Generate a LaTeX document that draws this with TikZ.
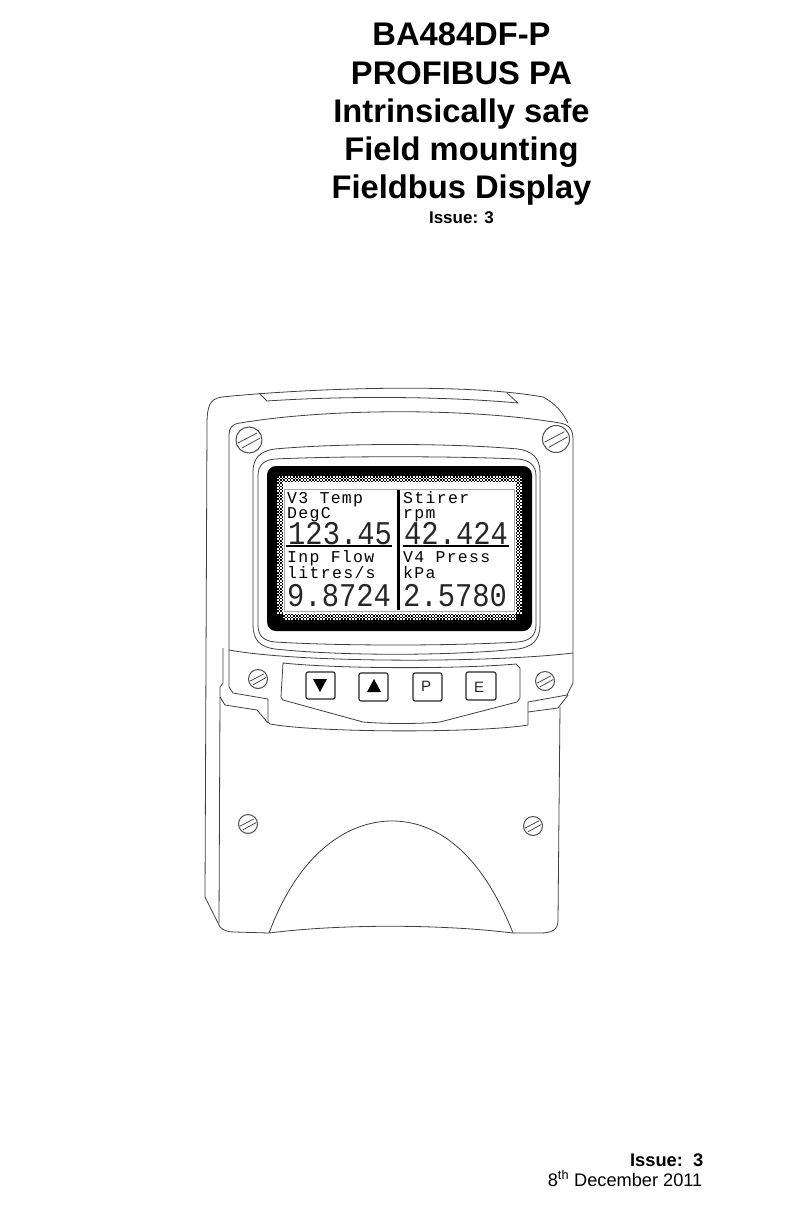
\documentclass[tikz,border=0pt]{standalone}
\usepackage{fontspec}
\setmainfont{Liberation Sans}
\newfontfamily\lcd[LetterSpace=8]{Liberation Mono}
\newfontfamily\lcdbig{Liberation Mono}
\begin{document}
\begin{tikzpicture}[x=1pt,y=-1pt,
  ln/.style={draw=black!75,line width=0.8pt,line join=round},
  title/.style={font=\fontsize{32.7}{33}\selectfont\bfseries,anchor=base,inner sep=0},
  small/.style={font=\fontsize{16.5}{17}\selectfont\lcd,anchor=base west,inner sep=0,text=black,text depth=0pt,text height=9pt},
  big/.style={font=\fontsize{28.8}{29}\selectfont\lcdbig,anchor=base west,inner sep=0,text=black!85,text depth=0pt,text height=17pt,yscale=1.15},
  key/.style={draw=black!85,line width=1.1pt,rounded corners=2pt},
  keytext/.style={font=\fontsize{15}{15}\selectfont,inner sep=0,text=black!85}]
\useasboundingbox (0,0) rectangle (808,1209);
\fill[white] (0,0) rectangle (808,1209);
\node[title] (t1) at (461.5,46) {BA484DF-P};
\node[title] (t2) at (461.5,84.5) {PROFIBUS PA};
\node[title] (t3) at (461.5,122.5) {Intrinsically safe};
\node[title] (t4) at (461.5,160.5) {Field mounting};
\node[title] (t5) at (461.5,198) {Fieldbus Display};
\node[font=\fontsize{17}{17}\selectfont\bfseries,anchor=base,inner sep=0] (t6) at (461.5,223) {Issue: 3};
\node[font=\fontsize{18.3}{19}\selectfont\bfseries,anchor=base east,inner sep=0] (i) at (703.5,1166) {Issue:\ \ 3};
\node[font=\fontsize{18.2}{19}\selectfont,anchor=base east,inner sep=0] (d) at (702.5,1186) {8\textsuperscript{th} December 2011};
% body
\draw[ln] (207,425) .. controls (207,405) and (210,399) .. (222,397) .. controls (300,389) and (460,382) .. (543,397) .. controls (555,403) and (563,413) .. (568,423);
\draw[ln] (207,425) -- (205,897) -- (220,927) .. controls (224,931) and (228,932) .. (235,932) -- (269,933) .. controls (340,924) and (440,924) .. (513,933) -- (540,933) .. controls (552,933) and (558,930) .. (558,920) -- (560,707);
\draw[ln] (220,697) -- (219,923);
\draw[ln] (259,393) -- (267,401) .. controls (340,396) and (440,396) .. (518,403) -- (507,393);
% front plate
\draw[ln] (229,687) -- (229,435) .. controls (229,428) and (232,424) .. (240,423) .. controls (330,408) and (470,408) .. (560,423) .. controls (570,425) and (573,430) .. (573,440) -- (573,683) -- (567,695) -- (528,702) -- (528,725) .. controls (480,733) and (320,733) .. (270,724) -- (268,722) -- (268,699) -- (233,693) -- cycle;
\draw[ln] (229,650) .. controls (300,663) and (490,663) .. (573,653);
\draw[ln] (223,648) -- (223,683) -- (220,687) -- (220,697) -- (225,705) -- (257,710) -- (268,723);
\draw[ln] (528,712) -- (558,708) -- (568,695);
% keypad recess
\draw[ln] (283,663) .. controls (340,669) and (460,669) .. (516,664) -- (520,668) -- (520,698) -- (517,702) -- (440,722) .. controls (420,724) and (385,724) .. (363,722) -- (283,700) -- (281,697) -- cycle;
% window bezel
\draw[ln] (275,449) .. controls (340,443) and (450,443) .. (518,449) .. controls (532,451) and (540,458) .. (540,472) -- (540,625) .. controls (540,640) and (532,647) .. (518,649) .. controls (450,656) and (340,656) .. (275,649) .. controls (260,647) and (253,640) .. (253,625) -- (253,472) .. controls (253,458) and (260,451) .. (275,449) -- cycle;
\draw[ln] (275,459) .. controls (340,456) and (450,456) .. (518,459) .. controls (529,460) and (536,465) .. (536,476) -- (536,625) .. controls (536,636) and (529,641) .. (518,642) .. controls (450,646) and (340,646) .. (275,642) .. controls (264,641) and (258,636) .. (258,625) -- (258,476) .. controls (258,465) and (264,460) .. (275,459) -- cycle;
% screen
\fill[black,rounded corners=9pt] (267,466) rectangle (532,631);
\fill[white] (277,476) rectangle (522,620);
\foreach \o [count=\i from 0] in {0,1.6,0,1.6}{
  \pgfmathsetmacro\d{0.8+1.6*\i}
  \draw[black,line width=1.6pt,dash pattern=on 1.6pt off 1.6pt,dash phase=\o pt] (277,476+\d) -- (522,476+\d);
  \draw[black,line width=1.6pt,dash pattern=on 1.6pt off 1.6pt,dash phase=\o pt] (277,620-\d) -- (522,620-\d);
  \draw[black,line width=1.6pt,dash pattern=on 1.6pt off 1.6pt,dash phase=\o pt] (277+\d,476) -- (277+\d,620);
  \draw[black,line width=1.6pt,dash pattern=on 1.6pt off 1.6pt,dash phase=\o pt] (522-\d,476) -- (522-\d,620);
}
\draw[black!35,line width=0.6pt] (284,489) rectangle (514,611);
\draw[black,line width=3pt] (398,490) -- (398,610);
\draw[black,line width=1.4pt] (286,546) -- (392,546);
\draw[black,line width=1.4pt] (403,546) -- (509,546);
\node[small] (a1) at (287,503) {V3 Temp};
\node[small] (a2) at (287,518) {DegC};
\node[big] (a3) at (288,544) {123.45};
\node[small] (b1) at (403,503) {Stirer};
\node[small] (b2) at (403,518) {rpm};
\node[big] (b3) at (404,544) {42.424};
\node[small] (c1) at (287,562) {Inp Flow};
\node[small] (c2) at (287,578) {litres/s};
\node[big] (c3) at (287,606) {9.8724};
\node[small] (d1) at (403,562) {V4 Press};
\node[small] (d2) at (403,578) {kPa};
\node[big] (d3) at (403,606) {2.5780};
% keys
\draw[key] (306,672) rectangle (335,699);
\fill (313,679) -- (327,679) -- (320,692) -- cycle;
\draw[key] (359,673) rectangle (388,701);
\fill (367,692) -- (381,692) -- (374,679) -- cycle;
\node[key,minimum width=29pt,minimum height=28pt,inner sep=0] (kp) at (427.5,687) {};
\node[keytext] (kpt) at (426,686) {P};
\node[key,minimum width=30pt,minimum height=28pt,inner sep=0] (ke) at (481,686) {};
\node[keytext] (ket) at (479,687) {E};
% screws
\foreach \x/\y/\r in {249/440/13,556/439/13.5,258/679/9.5,545/681/9.5,248/824/9.5,533/826/9.5}{
  \begin{scope}[shift={(\x,\y)},scale=\r]
    \draw[draw=black!70,line width=1pt] (0,0) circle[radius=1];
    \draw[draw=black!70,line width=0.8pt] (-.85,.23) -- (.62,-.54);
    \draw[draw=black!70,line width=0.8pt] (-.54,.62) -- (.85,-.15);
  \end{scope}
}
% recess arch
\draw[ln] (269,933) .. controls (300,850) and (350,821) .. (392,821) .. controls (435,821) and (480,850) .. (513,933);
\end{tikzpicture}
\end{document}
